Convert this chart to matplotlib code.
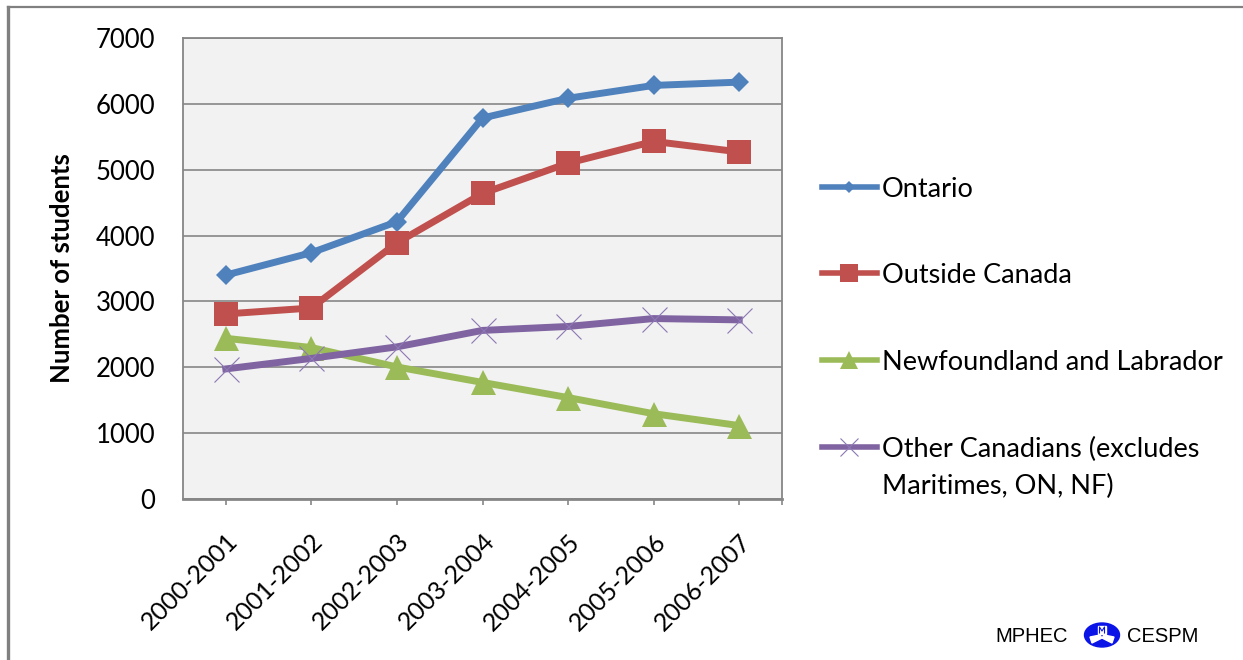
import matplotlib.pyplot as plt
from matplotlib.lines import Line2D
from matplotlib.patches import Ellipse, Polygon

# data
years = ["2000-2001", "2001-2002", "2002-2003", "2003-2004",
         "2004-2005", "2005-2006", "2006-2007"]
ontario = [3400, 3740, 4210, 5785, 6085, 6280, 6330]
outside_canada = [2810, 2900, 3890, 4640, 5100, 5430, 5270]
newfoundland = [2440, 2300, 2005, 1770, 1540, 1295, 1115]
other_canadians = [1975, 2135, 2310, 2560, 2620, 2740, 2720]
series_names = ["Ontario", "Outside Canada", "Newfoundland and Labrador",
                "Other Canadians (excludes\nMaritimes, ON, NF)"]
y_ticks = [0, 1000, 2000, 3000, 4000, 5000, 6000, 7000]

plt.rcParams['font.family'] = ['Lato', 'DejaVu Sans']

W, H = 1243, 660
fig = plt.figure(figsize=(W / 100, H / 100), dpi=100)


def fx(px):
    return px / W


def fy(py):
    return 1 - py / H


ax = fig.add_axes([fx(183), fy(499), (782 - 183) / W, (499 - 38) / H])
ax.set_facecolor('#f2f2f2')

x = [i + 0.5 for i in range(len(years))]
styles = [
    dict(color='#4f81bd', marker='D', ms=10, mew=0),
    dict(color='#c0504d', marker='s', ms=17, mew=0),
    dict(color='#9bbb59', marker='^', ms=18, mew=0),
    dict(color='#8064a2', marker='x', ms=18, mew=0.8, mec='#8c78b4'),
]
for vals, st in zip([ontario, outside_canada, newfoundland, other_canadians], styles):
    ax.plot(x, vals, lw=5, solid_joinstyle='round', **st)

ax.set_xlim(0, len(years))
ax.set_ylim(0, 7000)
ax.set_yticks(y_ticks)
ax.set_yticklabels([str(v) for v in y_ticks], fontsize=18.5)
ax.yaxis.grid(True, color='#868686', lw=1.2)
ax.set_axisbelow(True)
ax.tick_params(axis='y', length=0, pad=20)
ax.set_xticks(x + [len(years)])
ax.set_xticklabels(years + [""], fontsize=18, rotation=45, ha='right',
                   rotation_mode='anchor')
ax.tick_params(axis='x', length=4, width=1.2, color='#868686', pad=18)
for sp in ax.spines.values():
    sp.set_color('#868686')
    sp.set_linewidth(1.3)
ax.spines['bottom'].set_linewidth(2)

fig.text(fx(62), fy(268), "Number of students", rotation=90, ha='center',
         va='center', fontsize=18.5, fontweight='bold')

# legend drawn by hand to match the layout
row_y = [187, 273, 360, 447]
leg_ms = [6, 13, 13, 13]
for name, st, ry, ms in zip(series_names, styles, row_y, leg_ms):
    line_st = {k: v for k, v in st.items() if k not in ('marker', 'ms', 'mew', 'mec')}
    fig.add_artist(Line2D([fx(822), fx(877)], [fy(ry), fy(ry)], lw=4,
                          transform=fig.transFigure, **line_st))
    mk = dict(st)
    mk['ms'] = ms
    fig.add_artist(Line2D([fx(849.5)], [fy(ry)], lw=0, transform=fig.transFigure, **mk))
    fig.text(fx(882), fy(ry - 10), name, ha='left', va='top', fontsize=19.5,
             linespacing=1.6)

# frame lines
fig.add_artist(Line2D([fx(8), 1], [fy(7), fy(7)], color='#808080', lw=1.6,
                      transform=fig.transFigure))
fig.add_artist(Line2D([fx(8), fx(8)], [fy(7), 0], color='#808080', lw=2.4,
                      transform=fig.transFigure))

# logo
fig.text(fx(995), fy(637), "MPHEC", family='Liberation Sans', fontsize=14.5,
         ha='left', va='center')
fig.text(fx(1127), fy(637), "CESPM", family='Liberation Sans', fontsize=14.5,
         ha='left', va='center')
lax = fig.add_axes([fx(1083), fy(649), 38 / W, 28 / H])
lax.set_xlim(-19, 19)
lax.set_ylim(-14, 14)
lax.axis('off')
lax.add_patch(Ellipse((0, 0), 35, 24, color='#0a14e6'))
lax.add_patch(Polygon([(-4, 1), (4, 1), (4, 9), (-4, 9)], color='white'))
lax.add_patch(Polygon([(-2, 0), (-12, -2), (-10, -8), (0, -3)], color='white'))
lax.add_patch(Polygon([(2, 0), (12, -2), (10, -8), (0, -3)], color='white'))
lax.plot([-2.5, -2.5, 0, 2.5, 2.5], [2, 8, 4, 8, 2], color='#0a14e6', lw=0.8)

fig.savefig("out.png", dpi=100)
